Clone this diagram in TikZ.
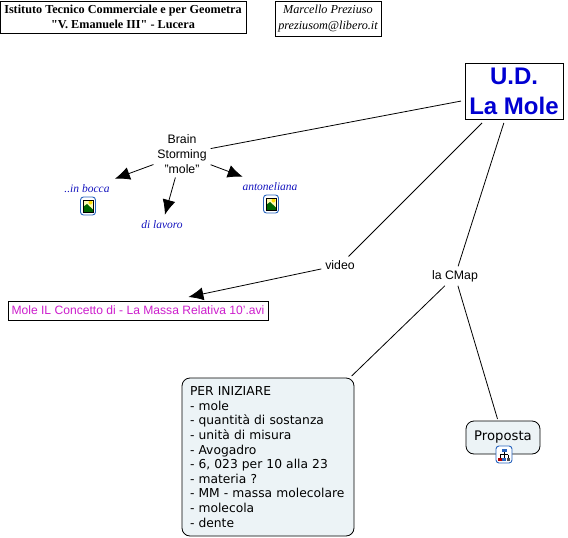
\documentclass[tikz,border=0pt]{standalone}
\usepackage{xcolor}
\usepackage{fontspec}
\setmainfont{Liberation Sans}
\newfontfamily\timesfont{Liberation Serif}
\newfontfamily\verdanafont{DejaVu Sans}
\usepackage{tikz}
\usetikzlibrary{arrows.meta}
\definecolor{linkblue}{RGB}{20,20,190}
\definecolor{titleblue}{RGB}{0,0,210}
\definecolor{avimagenta}{RGB}{205,30,205}
\definecolor{notefill}{RGB}{236,243,246}
\definecolor{iconblue}{RGB}{40,100,190}
\tikzset{
  headbox/.style={draw, fill=white, line width=0.9pt, align=center, inner sep=0pt, font=\timesfont\fontsize{12.2}{15.5}\selectfont},
  concept/.style={align=center, inner sep=3pt, outer sep=1pt, font=\fontsize{12.3}{15}\selectfont},
  linklabel/.style={inner sep=6pt, text=linkblue, font=\timesfont\itshape\fontsize{11.5}{14}\selectfont},
  notebox/.style={draw, fill=notefill, rounded corners=8pt, line width=0.8pt, outer sep=2pt, font=\verdanafont\fontsize{12.3}{14.6}\selectfont},
  arrowline/.style={-{Latex[length=15pt,width=13pt]}, line width=0.8pt},
  plainline/.style={line width=0.8pt},
  iconframe/.style={draw=iconblue, fill=white, rounded corners=3pt, line width=0.9pt, minimum width=15pt, minimum height=18pt, inner sep=0pt},
  pics/imageicon/.style={code={
    \fill[yellow!30!white] (-5,-6) rectangle (5,6);
    \fill[yellow!80!orange] (2.5,-3.5) circle (2);
    \fill[green!40!black] (-5,6) -- (-5,1) -- (-1,-2) -- (5,3.5) -- (5,6) -- cycle;
    \draw[black, line width=0.6pt] (-5,-6) rectangle (5,6);
  }},
  pics/mapicon/.style={code={
    \draw[black, line width=0.7pt] (0,-3) -- (0,0) (-4,0) -- (4,0) (-4,0) -- (-4,3) (0,0) -- (0,3) (4,0) -- (4,3);
    \fill[iconblue] (-2.5,-6) rectangle (2.5,-3);
    \fill[red!70!black] (-6,3) rectangle (-2.5,6);
    \fill[iconblue] (-1.7,3) rectangle (1.7,6);
    \fill[black!70] (2.5,3) rectangle (6,6);
  }}
}
\begin{document}
\begin{tikzpicture}[x=1pt,y=-1pt]
\useasboundingbox (0,0) rectangle (568,538);
\node[headbox, minimum width=246pt, minimum height=32pt] (school) at (123,17) {\bfseries Istituto Tecnico Commerciale e per Geometra\\\bfseries "V. Emanuele III" - Lucera};
\node[headbox, minimum width=106pt, minimum height=35pt] (author) at (328,18.5) {\itshape Marcello Preziuso\\\itshape preziusom@libero.it};
\node[draw, line width=1pt, minimum width=98pt, minimum height=56pt, inner sep=0pt, outer sep=4pt, align=center, text=titleblue, font=\bfseries\fontsize{24}{30}\selectfont] (mole) at (514,91) {U.D.\\La Mole};
\node[concept] (brain) at (182,154) {Brain\\Storming\\"mole"};
\node[concept] (video) at (340,265) {video};
\node[concept] (cmap) at (455,276) {la CMap};
\node[linklabel] (bocca) at (87,189) {..in bocca};
\node[linklabel] (lavoro) at (162,225) {di lavoro};
\node[linklabel] (antoneliana) at (270,187) {antoneliana};
\node[iconframe] (boccaicon) at (88,206) {};
\pic at (boccaicon) {imageicon};
\node[iconframe] (antonelianaicon) at (271,204) {};
\pic at (antonelianaicon) {imageicon};
\node[draw, fill=white, line width=0.9pt, minimum width=260pt, minimum height=19pt, inner sep=0pt, outer sep=4pt, text=avimagenta, font=\fontsize{12.1}{14}\selectfont] (avi) at (138,310.5) {Mole IL Concetto di - La Massa Relativa 10'.avi};
\node[notebox, minimum height=158pt, text width=156pt, align=left, inner xsep=8pt, inner ysep=0pt] (iniziare) at (268,457) {PER INIZIARE\\- mole\\- quantità di sostanza\\- unità di misura\\- Avogadro\\- 6, 023 per 10 alla 23\\- materia ?\\- MM - massa molecolare\\- molecola\\- dente};
\node[notebox, minimum width=74pt, minimum height=33pt, inner sep=0pt, font=\verdanafont\fontsize{13.2}{15}\selectfont] (proposta) at (503,437.5) {Proposta};
\node[iconframe, minimum width=16pt, minimum height=17pt] (propostaicon) at (504,454.5) {};
\pic at (propostaicon) {mapicon};
\draw[plainline] (mole) -- (brain);
\draw[plainline] (mole) -- (video);
\draw[plainline] (mole) -- (cmap);
\draw[arrowline] (brain) -- (bocca);
\draw[arrowline] (brain) -- (lavoro);
\draw[arrowline] (brain) -- (antoneliana);
\draw[arrowline] (video) -- (avi.15);
\draw[plainline] (cmap) -- (iniziare);
\draw[plainline] (cmap) -- (proposta);
\end{tikzpicture}
\end{document}
